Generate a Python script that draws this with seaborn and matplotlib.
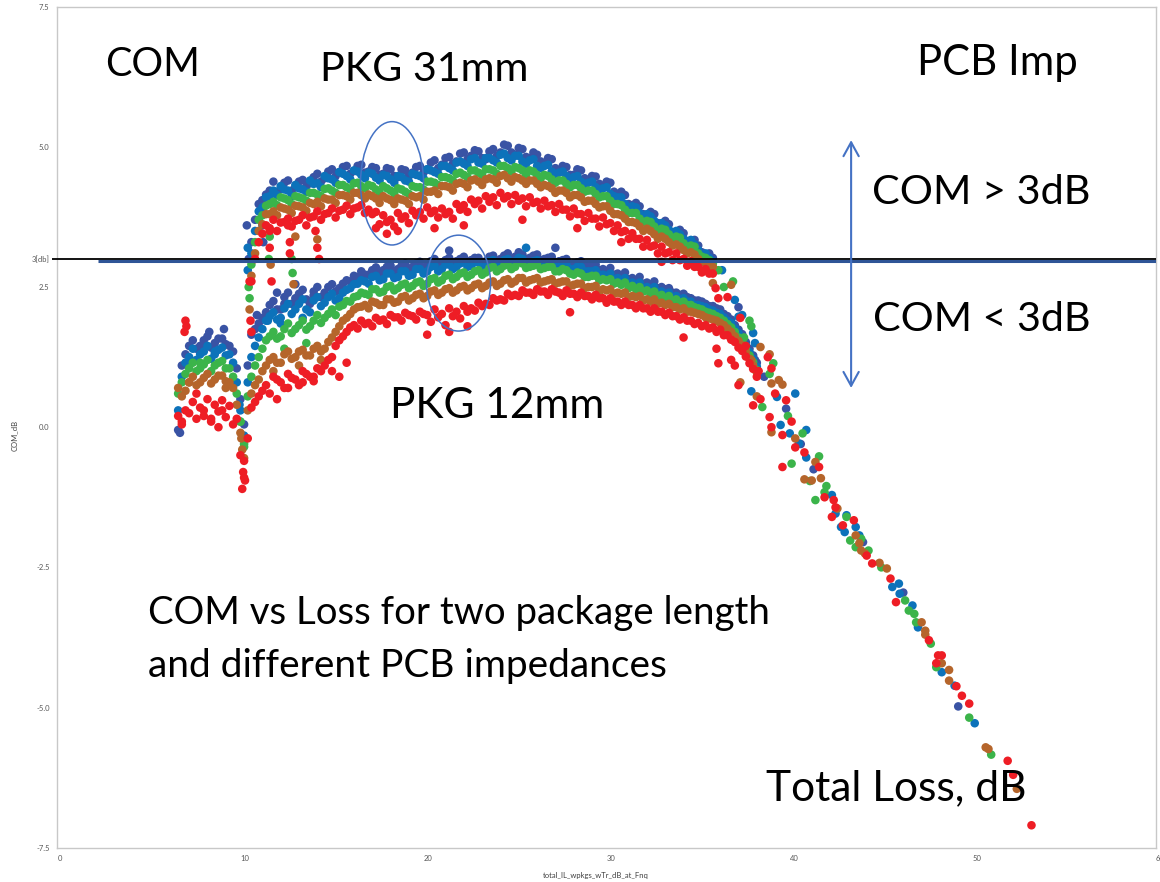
import numpy as np
import pandas as pd
import matplotlib
matplotlib.use("Agg")
import matplotlib.pyplot as plt
from matplotlib.patches import Ellipse
import seaborn as sns

# ---------------- data ----------------
imp_order = ["db", "bl", "gr", "br", "rd"]
imp_colors = ["#3953A4", "#0C72BA", "#3BB44A", "#B5652B", "#EE1D25"]

# ---- PKG 31mm band, first set of readings ----
loss_31 = [10.6, 11.0, 11.4, 11.8, 12.2, 12.6, 13.0, 13.4,
           13.8, 14.2, 14.6, 15.0, 15.4, 15.8, 16.2, 16.6,
           17.0, 17.4, 17.8, 18.2, 18.6, 19.0, 19.4, 19.8,
           20.2, 20.6, 21.0, 21.4, 21.8, 22.2, 22.6, 23.0,
           23.4, 23.8, 24.2, 24.6, 25.0, 25.4, 25.8, 26.2,
           26.6, 27.0, 27.4, 27.8, 28.2, 28.6, 29.0, 29.4,
           29.8, 30.2, 30.6, 31.0, 31.4, 31.8, 32.2, 32.6,
           33.0, 33.4, 33.8, 34.2, 34.6, 35.0, 35.4, 35.8]
com31_db = [3.30, 3.98, 4.15, 4.38, 4.25, 4.40, 4.28, 4.41,
            4.35, 4.52, 4.44, 4.60, 4.55, 4.66, 4.57, 4.68,
            4.56, 4.62, 4.52, 4.60, 4.46, 4.58, 4.54, 4.66,
            4.60, 4.76, 4.68, 4.82, 4.74, 4.90, 4.84, 4.92,
            4.78, 4.96, 4.90, 5.02, 4.86, 4.96, 4.80, 4.86,
            4.70, 4.78, 4.58, 4.64, 4.50, 4.58, 4.40, 4.47,
            4.30, 4.36, 4.16, 4.14, 3.96, 3.94, 3.78, 3.80,
            3.62, 3.62, 3.46, 3.46, 3.26, 3.24, 3.06, 3.02]
com31_bl = [3.10, 3.85, 4.10, 4.22, 4.30, 4.22, 4.32, 4.24,
            4.40, 4.35, 4.48, 4.42, 4.55, 4.48, 4.58, 4.50,
            4.54, 4.45, 4.50, 4.42, 4.48, 4.40, 4.52, 4.48,
            4.60, 4.55, 4.66, 4.62, 4.72, 4.70, 4.78, 4.72,
            4.80, 4.76, 4.86, 4.80, 4.84, 4.74, 4.76, 4.66,
            4.66, 4.56, 4.54, 4.48, 4.46, 4.38, 4.36, 4.28,
            4.26, 4.16, 4.10, 3.98, 3.94, 3.82, 3.80, 3.68,
            3.64, 3.52, 3.50, 3.36, 3.34, 3.16, 3.10, 2.96]
com31_gr = [2.90, 3.70, 3.95, 4.02, 4.10, 4.05, 4.12, 4.08,
            4.18, 4.15, 4.25, 4.22, 4.32, 4.28, 4.35, 4.30,
            4.32, 4.24, 4.30, 4.22, 4.26, 4.20, 4.30, 4.28,
            4.38, 4.36, 4.46, 4.44, 4.52, 4.50, 4.58, 4.54,
            4.60, 4.58, 4.66, 4.62, 4.64, 4.58, 4.58, 4.50,
            4.50, 4.42, 4.40, 4.34, 4.32, 4.26, 4.22, 4.16,
            4.12, 4.04, 3.98, 3.88, 3.82, 3.72, 3.68, 3.58,
            3.54, 3.44, 3.40, 3.28, 3.24, 3.10, 3.02, 2.92]
com31_br = [2.70, 3.50, 3.80, 3.85, 3.92, 3.88, 3.95, 3.92,
            4.00, 4.02, 4.08, 4.06, 4.14, 4.12, 4.18, 4.14,
            4.15, 4.08, 4.12, 4.05, 4.08, 4.04, 4.12, 4.12,
            4.20, 4.22, 4.30, 4.28, 4.34, 4.34, 4.40, 4.38,
            4.42, 4.42, 4.48, 4.44, 4.46, 4.40, 4.40, 4.34,
            4.32, 4.26, 4.22, 4.18, 4.14, 4.10, 4.04, 3.98,
            3.94, 3.86, 3.80, 3.72, 3.66, 3.58, 3.54, 3.44,
            3.40, 3.30, 3.26, 3.16, 3.12, 3.00, 2.94, 2.86]
com31_rd = [2.60, 3.30, 3.60, 3.70, 3.65, 3.72, 3.68, 3.78,
            3.74, 3.85, 3.80, 3.90, 3.86, 3.95, 3.90, 3.96,
            3.88, 3.84, 3.78, 3.70, 3.82, 3.76, 3.86, 3.84,
            3.92, 3.86, 3.90, 3.84, 3.98, 3.96, 4.06, 4.04,
            4.12, 4.10, 4.18, 4.12, 4.14, 4.08, 4.10, 4.02,
            4.04, 3.96, 3.98, 3.88, 3.90, 3.80, 3.82, 3.72,
            3.74, 3.64, 3.60, 3.50, 3.46, 3.36, 3.34, 3.24,
            3.22, 3.12, 3.10, 3.00, 2.96, 2.86, 2.82, 2.74]

# ---- PKG 31mm band, second set of readings ----
loss_31b = [10.8, 11.2, 11.6, 12.0, 12.4, 12.8, 13.2, 13.6,
            14.0, 14.4, 14.8, 15.2, 15.6, 16.0, 16.4, 16.8,
            17.2, 17.6, 18.0, 18.4, 18.8, 19.2, 19.6, 20.0,
            20.4, 20.8, 21.2, 21.6, 22.0, 22.4, 22.8, 23.2,
            23.6, 24.0, 24.4, 24.8, 25.2, 25.6, 26.0, 26.4,
            26.8, 27.2, 27.6, 28.0, 28.4, 28.8, 29.2, 29.6,
            30.0, 30.4, 30.8, 31.2, 31.6, 32.0, 32.4, 32.8,
            33.2, 33.6, 34.0, 34.4, 34.8, 35.2, 35.6]
com31b_db = [3.70, 4.05, 4.22, 4.20, 4.36, 4.22, 4.38, 4.30,
             4.46, 4.38, 4.56, 4.48, 4.64, 4.52, 4.66, 4.54,
             4.64, 4.50, 4.62, 4.48, 4.60, 4.48, 4.64, 4.54,
             4.72, 4.62, 4.80, 4.70, 4.88, 4.78, 4.94, 4.80,
             4.92, 4.84, 5.04, 4.90, 4.98, 4.82, 4.90, 4.74,
             4.80, 4.62, 4.66, 4.50, 4.60, 4.44, 4.48, 4.34,
             4.38, 4.20, 4.20, 3.98, 4.00, 3.80, 3.84, 3.64,
             3.68, 3.48, 3.52, 3.32, 3.34, 3.12, 3.10]
com31b_bl = [3.50, 3.92, 4.12, 4.14, 4.24, 4.12, 4.26, 4.20,
             4.34, 4.28, 4.44, 4.36, 4.52, 4.42, 4.56, 4.44,
             4.52, 4.40, 4.48, 4.36, 4.46, 4.38, 4.50, 4.44,
             4.58, 4.52, 4.66, 4.58, 4.74, 4.66, 4.80, 4.70,
             4.80, 4.72, 4.88, 4.76, 4.84, 4.70, 4.78, 4.62,
             4.68, 4.52, 4.56, 4.42, 4.48, 4.34, 4.38, 4.24,
             4.28, 4.12, 4.10, 3.92, 3.92, 3.74, 3.76, 3.58,
             3.60, 3.42, 3.44, 3.26, 3.26, 3.06, 3.02]
com31b_gr = [3.30, 3.78, 3.98, 3.96, 4.08, 3.98, 4.10, 4.04,
             4.18, 4.12, 4.26, 4.18, 4.32, 4.24, 4.36, 4.26,
             4.30, 4.18, 4.26, 4.16, 4.24, 4.16, 4.28, 4.24,
             4.38, 4.32, 4.46, 4.40, 4.54, 4.46, 4.58, 4.50,
             4.60, 4.52, 4.66, 4.56, 4.62, 4.50, 4.56, 4.44,
             4.48, 4.36, 4.40, 4.28, 4.32, 4.20, 4.22, 4.10,
             4.12, 3.98, 3.96, 3.82, 3.82, 3.66, 3.66, 3.50,
             3.52, 3.36, 3.38, 3.22, 3.22, 3.04, 2.98]
com31b_br = [3.10, 3.62, 3.80, 3.78, 3.90, 3.82, 3.94, 3.86,
             3.98, 3.94, 4.06, 4.00, 4.14, 4.06, 4.18, 4.08,
             4.12, 4.00, 4.08, 3.98, 4.06, 3.98, 4.10, 4.06,
             4.20, 4.16, 4.30, 4.22, 4.36, 4.28, 4.42, 4.32,
             4.44, 4.36, 4.50, 4.38, 4.44, 4.34, 4.40, 4.28,
             4.30, 4.18, 4.22, 4.10, 4.14, 4.02, 4.04, 3.92,
             3.94, 3.80, 3.78, 3.66, 3.64, 3.50, 3.50, 3.36,
             3.36, 3.24, 3.22, 3.10, 3.08, 2.94, 2.90]
com31b_rd = [3.00, 3.45, 3.55, 3.50, 3.66, 3.58, 3.70, 3.60,
             3.76, 3.70, 3.82, 3.74, 3.88, 3.80, 3.92, 3.82,
             3.80, 3.62, 3.66, 3.58, 3.72, 3.64, 3.78, 3.72,
             3.82, 3.74, 3.80, 3.72, 3.88, 3.84, 3.98, 3.90,
             4.02, 3.96, 4.08, 3.98, 4.04, 3.94, 4.00, 3.90,
             3.94, 3.84, 3.88, 3.76, 3.80, 3.68, 3.72, 3.58,
             3.62, 3.50, 3.48, 3.36, 3.36, 3.22, 3.22, 3.10,
             3.10, 2.98, 2.98, 2.88, 2.86, 2.76, 2.74]

# ---- PKG 12mm band, first set of readings ----
loss_12 = [6.6, 7.0, 7.4, 7.8, 8.2, 8.6, 9.0, 9.4,
           9.8, 10.2, 10.6, 11.0, 11.4, 11.8, 12.2, 12.6,
           13.0, 13.4, 13.8, 14.2, 14.6, 15.0, 15.4, 15.8,
           16.2, 16.6, 17.0, 17.4, 17.8, 18.2, 18.6, 19.0,
           19.4, 19.8, 20.2, 20.6, 21.0, 21.4, 21.8, 22.2,
           22.6, 23.0, 23.4, 23.8, 24.2, 24.6, 25.0, 25.4,
           25.8, 26.2, 26.6, 27.0, 27.4, 27.8, 28.2, 28.6,
           29.0, 29.4, 29.8, 30.2, 30.6, 31.0, 31.4, 31.8,
           32.2, 32.6, 33.0, 33.4, 33.8, 34.2, 34.6, 35.0,
           35.4, 35.8, 36.2, 36.6, 37.0, 37.4, 37.8, 38.2]
com12_db = [-0.05, 1.30, 1.55, 1.45, 1.62, 1.50, 1.58, 1.45,
            1.05, 0.05, 1.65, 1.85, 2.05, 2.25, 2.10, 2.40,
            2.30, 2.45, 2.20, 2.50, 2.40, 2.55, 2.48, 2.62,
            2.70, 2.78, 2.72, 2.85, 2.80, 2.88, 2.82, 2.92,
            2.86, 2.95, 2.90, 3.00, 2.94, 3.02, 2.96, 3.04,
            2.98, 3.02, 2.96, 3.06, 3.00, 3.10, 3.04, 3.08,
            3.02, 3.08, 3.00, 3.04, 2.96, 3.00, 2.92, 2.96,
            2.88, 2.90, 2.82, 2.84, 2.74, 2.76, 2.66, 2.68,
            2.58, 2.60, 2.50, 2.48, 2.40, 2.38, 2.30, 2.26,
            2.20, 2.16, 2.10, 1.98, 1.82, 1.66, 1.40, 1.15]
com12_bl = [0.30, 1.15, 1.40, 1.30, 1.45, 1.35, 1.42, 1.30,
            0.80, -0.15, 1.25, 1.60, 1.90, 2.05, 1.95, 2.20,
            2.10, 2.28, 2.05, 2.32, 2.22, 2.38, 2.30, 2.45,
            2.55, 2.62, 2.56, 2.70, 2.64, 2.74, 2.68, 2.78,
            2.72, 2.82, 2.78, 2.88, 2.82, 2.90, 2.86, 2.94,
            2.88, 2.94, 2.90, 2.98, 2.92, 3.00, 2.96, 3.00,
            2.94, 2.98, 2.90, 2.94, 2.86, 2.90, 2.82, 2.86,
            2.78, 2.80, 2.72, 2.74, 2.66, 2.66, 2.58, 2.58,
            2.50, 2.50, 2.42, 2.40, 2.34, 2.30, 2.24, 2.18,
            2.14, 2.08, 2.02, 1.90, 1.76, 1.58, 1.34, 1.08]
com12_gr = [0.60, 0.95, 1.15, 1.05, 1.20, 1.10, 1.18, 1.05,
            0.60, -0.35, 0.90, 1.25, 1.55, 1.70, 1.62, 1.85,
            1.75, 1.90, 1.80, 2.00, 1.95, 2.10, 2.15, 2.25,
            2.32, 2.40, 2.36, 2.46, 2.42, 2.52, 2.48, 2.56,
            2.52, 2.60, 2.56, 2.66, 2.62, 2.72, 2.68, 2.76,
            2.72, 2.80, 2.76, 2.86, 2.82, 2.90, 2.86, 2.92,
            2.86, 2.90, 2.84, 2.86, 2.78, 2.80, 2.72, 2.74,
            2.68, 2.70, 2.64, 2.64, 2.58, 2.58, 2.52, 2.50,
            2.44, 2.42, 2.36, 2.34, 2.28, 2.24, 2.18, 2.12,
            2.06, 2.02, 1.95, 1.84, 1.70, 1.52, 1.28, 1.02]
com12_br = [0.70, 0.65, 0.90, 0.80, 0.95, 0.85, 0.92, 0.80,
            0.40, -0.55, 0.60, 0.85, 1.10, 1.25, 1.15, 1.35,
            1.25, 1.38, 1.28, 1.45, 1.40, 1.60, 1.80, 1.95,
            2.10, 2.15, 2.12, 2.22, 2.18, 2.28, 2.24, 2.34,
            2.30, 2.38, 2.34, 2.44, 2.40, 2.48, 2.44, 2.52,
            2.48, 2.56, 2.52, 2.60, 2.56, 2.64, 2.60, 2.66,
            2.62, 2.66, 2.60, 2.64, 2.58, 2.60, 2.54, 2.56,
            2.50, 2.52, 2.46, 2.46, 2.40, 2.40, 2.34, 2.34,
            2.28, 2.28, 2.22, 2.20, 2.14, 2.12, 2.06, 2.02,
            1.96, 1.92, 1.86, 1.76, 1.62, 1.46, 1.22, 0.98]
com12_rd = [0.20, 0.30, 0.45, 0.35, 0.50, 0.40, 0.48, 0.38,
            0.15, -0.90, 0.35, 0.55, 0.75, 0.90, 0.80, 0.95,
            0.85, 1.00, 0.90, 1.05, 1.10, 1.25, 1.55, 1.70,
            1.82, 1.90, 1.86, 1.95, 1.92, 2.00, 1.96, 2.04,
            1.98, 2.06, 2.00, 2.10, 2.02, 2.12, 2.06, 2.16,
            2.12, 2.22, 2.20, 2.30, 2.28, 2.38, 2.36, 2.44,
            2.40, 2.46, 2.42, 2.46, 2.40, 2.44, 2.38, 2.40,
            2.34, 2.36, 2.30, 2.30, 2.24, 2.24, 2.18, 2.18,
            2.12, 2.12, 2.06, 2.04, 1.98, 1.96, 1.90, 1.86,
            1.82, 1.78, 1.74, 1.64, 1.52, 1.36, 1.14, 0.90]

# ---- PKG 12mm band, second set of readings ----
loss_12b = [6.8, 7.2, 7.6, 8.0, 8.4, 8.8, 9.2, 9.6,
            10.0, 10.4, 10.8, 11.2, 11.6, 12.0, 12.4, 12.8,
            13.2, 13.6, 14.0, 14.4, 14.8, 15.2, 15.6, 16.0,
            16.4, 16.8, 17.2, 17.6, 18.0, 18.4, 18.8, 19.2,
            19.6, 20.0, 20.4, 20.8, 21.2, 21.6, 22.0, 22.4,
            22.8, 23.2, 23.6, 24.0, 24.4, 24.8, 25.2, 25.6,
            26.0, 26.4, 26.8, 27.2, 27.6, 28.0, 28.4, 28.8,
            29.2, 29.6, 30.0, 30.4, 30.8, 31.2, 31.6, 32.0,
            32.4, 32.8, 33.2, 33.6, 34.0, 34.4, 34.8, 35.2,
            35.6, 36.0, 36.4, 36.8, 37.2, 37.6, 38.0]
com12b_db = [1.10, 1.45, 1.40, 1.55, 1.42, 1.58, 1.48, 1.35,
             0.50, 1.10, 1.75, 1.95, 2.18, 2.10, 2.32, 2.20,
             2.38, 2.28, 2.42, 2.32, 2.50, 2.42, 2.56, 2.60,
             2.68, 2.72, 2.80, 2.74, 2.86, 2.78, 2.88, 2.82,
             2.92, 2.84, 2.96, 2.88, 2.98, 2.92, 3.00, 2.94,
             3.02, 2.94, 3.04, 2.96, 3.06, 3.00, 3.12, 3.00,
             3.06, 2.98, 3.02, 2.94, 2.98, 2.90, 2.94, 2.86,
             2.86, 2.80, 2.78, 2.72, 2.70, 2.64, 2.62, 2.56,
             2.54, 2.48, 2.46, 2.40, 2.36, 2.32, 2.26, 2.24,
             2.16, 2.12, 2.02, 1.92, 1.74, 1.52, 1.28]
com12b_bl = [0.90, 1.25, 1.20, 1.35, 1.22, 1.38, 1.28, 1.15,
             0.30, 0.80, 1.45, 1.75, 1.98, 1.92, 2.12, 2.02,
             2.20, 2.10, 2.26, 2.16, 2.32, 2.26, 2.40, 2.48,
             2.56, 2.60, 2.68, 2.62, 2.74, 2.66, 2.78, 2.70,
             2.82, 2.74, 2.86, 2.78, 2.90, 2.82, 2.92, 2.86,
             2.94, 2.86, 2.96, 2.88, 2.98, 2.92, 3.02, 2.92,
             2.96, 2.90, 2.94, 2.86, 2.90, 2.82, 2.86, 2.78,
             2.78, 2.72, 2.70, 2.64, 2.62, 2.56, 2.54, 2.48,
             2.46, 2.40, 2.38, 2.32, 2.28, 2.24, 2.18, 2.16,
             2.10, 2.04, 1.96, 1.86, 1.68, 1.46, 1.22]
com12b_gr = [0.80, 1.05, 1.00, 1.12, 1.00, 1.15, 1.05, 0.90,
             0.10, 0.55, 1.10, 1.40, 1.62, 1.58, 1.75, 1.68,
             1.82, 1.74, 1.90, 1.86, 2.02, 2.00, 2.18, 2.24,
             2.34, 2.38, 2.46, 2.40, 2.50, 2.44, 2.54, 2.48,
             2.58, 2.52, 2.64, 2.58, 2.70, 2.64, 2.74, 2.68,
             2.78, 2.72, 2.84, 2.78, 2.88, 2.82, 2.94, 2.84,
             2.88, 2.82, 2.86, 2.78, 2.82, 2.74, 2.76, 2.68,
             2.70, 2.62, 2.62, 2.56, 2.54, 2.48, 2.46, 2.42,
             2.38, 2.34, 2.30, 2.26, 2.22, 2.18, 2.14, 2.10,
             2.04, 1.98, 1.90, 1.78, 1.60, 1.40, 1.16]
com12b_br = [0.55, 0.80, 0.75, 0.88, 0.78, 0.92, 0.82, 0.70,
             -0.10, 0.30, 0.75, 1.00, 1.20, 1.15, 1.30, 1.22,
             1.35, 1.28, 1.40, 1.35, 1.52, 1.70, 1.90, 2.02,
             2.14, 2.18, 2.24, 2.18, 2.28, 2.22, 2.32, 2.26,
             2.36, 2.30, 2.42, 2.36, 2.46, 2.40, 2.50, 2.44,
             2.54, 2.48, 2.58, 2.52, 2.62, 2.56, 2.66, 2.58,
             2.64, 2.58, 2.62, 2.56, 2.60, 2.52, 2.56, 2.48,
             2.50, 2.42, 2.44, 2.38, 2.38, 2.32, 2.32, 2.26,
             2.24, 2.20, 2.18, 2.14, 2.10, 2.06, 2.04, 2.00,
             1.94, 1.90, 1.82, 1.70, 1.54, 1.34, 1.10]
com12b_rd = [0.05, 0.25, 0.15, 0.30, 0.10, 0.28, 0.18, 0.05,
             -0.50, -0.20, 0.45, 0.65, 0.60, 0.85, 0.70, 0.88,
             0.75, 0.95, 0.82, 1.00, 1.20, 1.45, 1.62, 1.78,
             1.76, 1.84, 1.80, 1.90, 1.84, 1.96, 1.90, 2.00,
             1.92, 2.02, 1.88, 1.96, 1.82, 1.98, 1.94, 2.06,
             2.08, 2.16, 2.18, 2.26, 2.26, 2.34, 2.34, 2.40,
             2.36, 2.42, 2.36, 2.42, 2.34, 2.38, 2.32, 2.34,
             2.28, 2.30, 2.22, 2.24, 2.18, 2.18, 2.12, 2.12,
             2.06, 2.06, 2.00, 1.98, 1.92, 1.90, 1.84, 1.80,
             1.76, 1.70, 1.64, 1.56, 1.42, 1.26, 1.04]

# ---- individual points: transitions, dips, outliers, high-loss tail ----
xtra_db_loss = [10.35, 10.45, 11.25, 6.7, 8.3, 9.1, 12.0, 13.0, 21.4, 27.2,
                35.6, 37.2, 38.1, 39.8, 49.2, 10.9, 12.4, 14.0,
                38.6, 40.6, 41.3, 44.0, 46.2]
xtra_db_com = [3.6, 3.0, 3.3, -0.1, 1.7, 1.75, 2.4, 2.55, 3.15, 3.2,
               2.86, 2.14, 1.2, 0.33, -4.98, 2.0, 2.2, 2.35,
               0.9, -0.3, -0.75, -2.05, -2.95]
xtra_bl_loss = [10.4, 10.4, 11.2, 8.6, 9.95, 11.5, 12.2, 13.4, 25.6, 36.3,
                37.0, 37.2, 37.4, 38.0, 38.1, 39.3, 40.3, 37.9, 39.5, 40.0,
                40.5, 40.9, 40.9, 42.3, 42.5, 43.1, 42.8, 43.0, 43.6, 43.8,
                45.6, 45.96, 46.0, 46.7, 47.0, 48.3, 49.0, 50.1]
xtra_bl_com = [3.2, 2.8, 3.6, 1.3, 0.4, 1.9, 1.85, 1.95, 3.2, 2.8,
               2.27, 1.97, 2.0, 1.68, 1.5, 0.54, 0.6, 0.64, 0.04, -0.11,
               -0.29, -0.05, -0.54, -1.21, -1.54, -1.57, -1.78, -1.87, -1.78, -1.93,
               -2.85, -2.79, -2.97, -3.18, -3.57, -4.37, -4.61, -5.28]
xtra_gr_loss = [10.45, 10.5, 11.6, 11.55, 12.8, 12.85, 7.8, 10.0, 10.2, 12.4,
                13.6, 36.1, 36.9, 36.4, 37.8, 37.9, 39.1, 38.5, 40.7, 40.1,
                41.6, 41.1, 41.9, 41.4, 43.1, 43.3, 43.9, 43.6, 44.3, 46.3,
                46.5, 46.8, 46.9, 47.7, 48.0, 49.8, 51.0,
                37.5, 38.9, 39.9, 42.0, 45.0]
xtra_gr_com = [2.5, 2.3, 3.4, 3.0, 3.0, 2.75, 1.15, 0.1, -0.3, 1.4,
               1.5, 2.8, 2.6, 2.5, 1.9, 1.8, 1.14, 0.36, -0.11, -0.65,
               -0.52, -0.96, -1.16, -1.3, -1.6, -2.02, -1.99, -2.14, -2.2, -3.09,
               -3.27, -3.33, -3.48, -3.86, -4.28, -5.18, -5.84,
               1.6, 0.95, 0.2, -1.05, -2.5]
xtra_br_loss = [10.5, 11.65, 12.9, 13.0, 14.2, 10.1, 10.05, 7.2, 9.2, 11.8,
                13.2, 14.4, 35.8, 36.8, 38.4, 38.9, 39.4, 39.0, 39.6, 37.3,
                39.0, 41.4, 41.2, 41.7, 40.8, 43.6, 43.8, 43.9, 44.9, 45.3,
                47.2, 47.4, 47.4, 48.3, 48.7, 48.7, 50.7, 50.85, 52.4,
                37.9, 38.2, 40.3, 42.6, 44.1]
xtra_br_com = [2.1, 2.9, 2.55, 3.4, 3.35, -0.4, -0.2, 0.8, 0.7, 1.0,
               1.1, 1.2, 2.57, 2.54, 1.43, 1.3, 0.84, 0.78, 0.76, 0.8,
               -0.09, -0.62, -0.95, -0.91, -0.93, -1.93, -2.07, -2.2, -2.42, -2.52,
               -3.48, -3.63, -3.7, -4.21, -4.33, -4.52, -5.71, -5.74, -6.45,
               1.2, 0.55, -0.2, -1.45, -2.25]
xtra_rd_loss = [10.55, 10.6, 10.5, 11.6, 11.6, 11.7, 12.6, 12.7, 12.7, 14.1,
                14.2, 14.3, 10.1, 10.15, 10.2, 10.25, 7.0, 7.05, 6.95, 7.6,
                8.0, 8.4, 8.8, 9.0, 6.8, 12.0, 12.6, 13.4, 14.0, 15.0,
                15.4, 15.8, 18.0, 18.6, 22.2, 20.6, 17.4, 25.4, 28.4, 30.8,
                33.0, 21.4, 22.4, 20.2, 28.0, 34.2, 36.0, 37.0, 36.1, 36.8,
                37.2, 38.0, 38.4, 38.9, 39.0, 39.6, 40.1, 40.3, 39.6, 41.6,
                41.9, 42.4, 42.5, 42.3, 43.5, 44.2, 44.5, 45.5, 45.8, 47.6,
                48.1, 48.3, 48.0, 49.1, 49.4, 49.8, 51.9, 52.2, 53.2, 35.95,
                36.1, 36.6, 37.3, 38.8, 39.0, 39.8,
                37.6, 38.3, 39.2, 40.8, 42.9]
xtra_rd_com = [1.9, 1.7, 2.6, 3.5, 3.2, 2.6, 3.6, 3.3, 3.1, 3.5,
               3.2, 3.0, -1.1, -0.8, -0.6, -0.95, 1.9, 1.8, 1.7, 0.6,
               0.2, 0.15, 0.0, 0.3, 0.1, 0.5, 0.7, 0.8, 0.9, 1.0,
               0.9, 1.15, 3.45, 3.5, 3.6, 3.55, 3.55, 3.7, 3.55, 3.3,
               2.95, 1.7, 1.8, 1.65, 2.05, 1.6, 1.4, 1.1, 1.14, 1.2,
               0.75, 0.39, 0.5, 0.18, 0.0, -0.14, 0.1, -0.36, -0.71, -0.71,
               -1.25, -1.3, -1.43, -1.6, -1.66, -2.29, -2.43, -2.7, -3.12, -3.8,
               -4.07, -4.07, -4.21, -4.62, -4.79, -4.93, -5.95, -6.2, -7.1, 2.48,
               2.3, 2.32, 1.95, 1.25, 1.05, 0.48,
               1.45, 1.0, 0.6, -0.45, -1.75]

y_ticks = [-7.5, -5.0, -2.5, 0.0, 2.5, 3.0, 5.0, 7.5]
y_tick_labels = ["-7.5", "-5.0", "-2.5", "0.0", "2.5", "3[db]", "5.0", "7.5"]
x_ticks = [0, 10, 20, 30, 40, 50, 60]
x_tick_labels = ["0", "10", "20", "30", "40", "50", "60"]

# ---------------- build long table ----------------
series = {
    "db": [(loss_31, com31_db), (loss_31b, com31b_db), (loss_12, com12_db),
           (loss_12b, com12b_db), (xtra_db_loss, xtra_db_com)],
    "bl": [(loss_31, com31_bl), (loss_31b, com31b_bl), (loss_12, com12_bl),
           (loss_12b, com12b_bl), (xtra_bl_loss, xtra_bl_com)],
    "gr": [(loss_31, com31_gr), (loss_31b, com31b_gr), (loss_12, com12_gr),
           (loss_12b, com12b_gr), (xtra_gr_loss, xtra_gr_com)],
    "br": [(loss_31, com31_br), (loss_31b, com31b_br), (loss_12, com12_br),
           (loss_12b, com12b_br), (xtra_br_loss, xtra_br_com)],
    "rd": [(loss_31, com31_rd), (loss_31b, com31b_rd), (loss_12, com12_rd),
           (loss_12b, com12b_rd), (xtra_rd_loss, xtra_rd_com)],
}


def part(loss, com, imp):
    n = min(len(loss), len(com))
    return pd.DataFrame({"loss": list(loss[:n]), "com": list(com[:n]), "imp": imp})


frames = []
for imp in imp_order:
    for loss, com in series[imp]:
        frames.append(part(loss, com, imp))
df = pd.concat(frames, ignore_index=True)

# ---------------- figure ----------------
sns.set_theme(style="white")
plt.rcParams["font.family"] = ["Lato", "DejaVu Sans"]

W, H = 1160, 882
fig = plt.figure(figsize=(W / 100, H / 100), dpi=100)
ax_l, ax_r, ax_t, ax_b = 57.3, 1156.0, 6.7, 847.7
ax = fig.add_axes([ax_l / W, 1 - ax_b / H, (ax_r - ax_l) / W, (ax_b - ax_t) / H])

palette = dict(zip(imp_order, imp_colors))
sns.scatterplot(data=df, x="loss", y="com", hue="imp", hue_order=imp_order,
                palette=palette, s=38, linewidth=0, alpha=1.0,
                legend=False, ax=ax, zorder=3)

ax.set_xlim(0, 60)
ax.set_ylim(-7.5, 7.5)
ax.set_xticks(x_ticks)
ax.set_xticklabels(x_tick_labels)
ax.set_yticks(y_ticks)
ax.set_yticklabels(y_tick_labels)
for lab in ax.get_xticklabels():
    lab.set_ha("left")
ax.tick_params(axis="both", direction="out", length=3.5, width=0.8,
               color="#BFBFBF", labelsize=5.5, labelcolor="#595959", pad=2)
for sp in ax.spines.values():
    sp.set_visible(True)
    sp.set_color("#C8C8C8")
    sp.set_linewidth(1.0)

ax.set_xlabel("total_IL_wpkgs_wTr_dB_at_Fnq", fontsize=5.5, color="#404040")
ax.set_ylabel("COM_dB", fontsize=5.5, color="#404040")
ax.xaxis.set_label_coords(0.49, -0.029)
ax.yaxis.set_label_coords(-0.036, 0.49)

# reference lines at 3 dB
ax.hlines(3.0, -0.3, 60, colors="black", linewidth=1.3, zorder=4, clip_on=False)
ax.hlines(2.964, 2.2, 60, colors="#2F5597", linewidth=2.2, zorder=4)

# ellipses marking the two package groups
ax.add_patch(Ellipse((18.28, 4.35), 3.44, 2.2, fill=False, ec="#4472C4", lw=1.1, zorder=5))
ax.add_patch(Ellipse((21.91, 2.57), 3.5, 1.71, fill=False, ec="#4472C4", lw=1.1, zorder=5))

# double arrow
ax.annotate("", xy=(43.35, 5.12), xytext=(43.35, 0.70),
            arrowprops=dict(arrowstyle="<->,head_length=1.0,head_width=0.55",
                            color="#4472C4", lw=1.5, mutation_scale=10,
                            shrinkA=0, shrinkB=0), zorder=5)


def fit_text(s, left, base, width, start=30):
    t = fig.text(left / W, 1 - base / H, s, ha="left", va="baseline",
                 fontsize=start, family=["Lato", "DejaVu Sans"], color="black")
    fig.canvas.draw()
    w = t.get_window_extent().width
    t.set_fontsize(start * width / w)
    return t


fit_text("COM", 105, 76, 95)
fit_text("PKG 31mm", 320, 81, 208)
fit_text("PCB Imp", 917, 75, 160)
fit_text("COM > 3dB", 872, 204, 218)
fit_text("COM < 3dB", 873, 331, 217)
fit_text("PKG 12mm", 390, 418, 214)
fit_text("COM vs Loss for two package length", 148, 624, 620)
fit_text("and different PCB impedances", 148, 677, 519)
fit_text("Total Loss, dB", 766, 800, 261)

fig.savefig("out.png", dpi=100)
